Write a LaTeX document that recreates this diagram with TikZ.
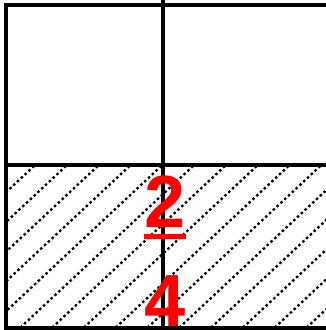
\documentclass[tikz,border=0pt]{standalone}
\usepackage{fontspec}
\setmainfont{Liberation Sans}
\begin{document}
\begin{tikzpicture}[x=1pt,y=1pt,
  gridline/.style={line width=3.8pt,black},
  hatchline/.style={line width=2.3pt,black,dash pattern=on 2.5pt off 2.7pt},
  digit/.style={text=red,font=\bfseries\fontsize{74}{74}\selectfont,inner sep=0pt,anchor=base,text depth=0pt},
  fracbar/.style={draw=red,line width=5pt}]
\useasboundingbox (0,0) rectangle (325,330);
\fill[white] (0,0) rectangle (325,330);
% hatching of the lower half
\begin{scope}
  \clip (6,2) rectangle (330,164.7);
  \foreach \k in {0,...,16}{
    \pgfmathsetmacro{\xt}{32+31.8*\k}
    \draw[hatchline] (\xt-220,162-0.935*220) -- (\xt+40,162+0.935*40);
  }
\end{scope}
% grid
\coordinate (tl) at (6,324.7);
\coordinate (br) at (330,2);
\draw[gridline] (330,324.7) -- (tl) -- (6,2) -- (br);
\draw[gridline] (163,330) -- (163,0);
\draw[gridline] (6,164.7) -- (330,164.7);
% fraction
\node[digit] (num) at (165,102) {2};
\coordinate (barL) at (144,93.5);
\coordinate (barR) at (186,93.5);
\draw[fracbar] (barL) -- (barR);
\node[digit] (den) at (165,3.5) {4};
\end{tikzpicture}
\end{document}
